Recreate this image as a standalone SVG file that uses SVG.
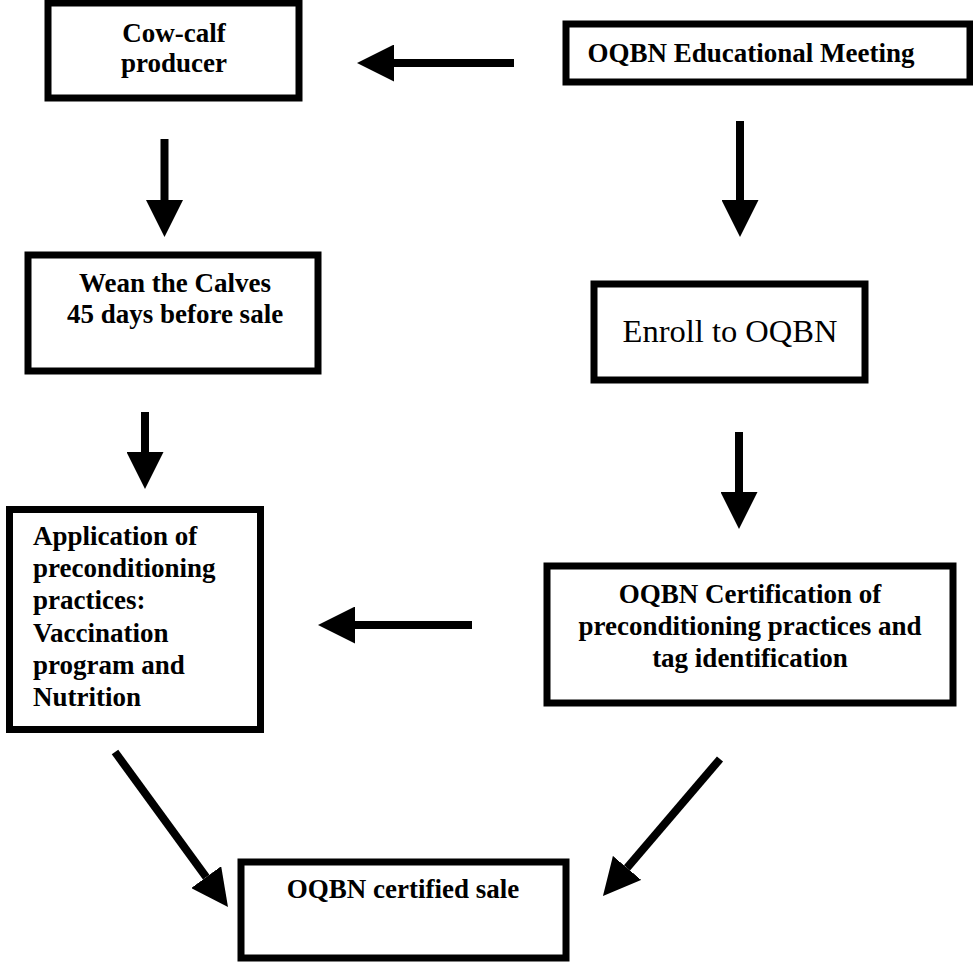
<svg xmlns="http://www.w3.org/2000/svg" width="973" height="962" viewBox="0 0 973 962">
<style>
.box{fill:#fff;stroke:#000;stroke-width:7}
.t{font-family:"Liberation Serif","Times New Roman",serif;font-weight:bold;font-size:27px;fill:#000}
.c{text-anchor:middle}
.r{font-weight:normal;font-size:32.5px}
.arr{stroke:#000;stroke-width:8;fill:none;marker-end:url(#ah)}
</style>
<defs>
<marker id="ah" markerUnits="userSpaceOnUse" markerWidth="37" markerHeight="37" viewBox="0 0 37 37" refX="0" refY="18.5" orient="auto">
<path d="M0,0 L37,18.5 L0,37 z" fill="#000"/>
</marker>
</defs>
<rect width="973" height="962" fill="#fff"/>
<g id="connectors">
<line class="arr" x1="514" y1="63" x2="394" y2="63"/>
<line class="arr" x1="164.5" y1="139" x2="164.5" y2="200"/>
<line class="arr" x1="740" y1="121" x2="740" y2="200"/>
<line class="arr" x1="145" y1="412" x2="145" y2="452"/>
<line class="arr" x1="739" y1="432" x2="739" y2="492"/>
<line class="arr" x1="472" y1="625" x2="355" y2="625"/>
<line class="arr" x1="115" y1="752" x2="206.2" y2="877.1"/>
<line class="arr" x1="720" y1="759" x2="627" y2="867.9"/>
</g>
<g id="cowcalf">
<rect class="box" x="48" y="3" width="251" height="95"/>
<text class="t c" x="174" y="42">Cow-calf</text>
<text class="t c" x="174" y="72">producer</text>
</g>
<g id="meeting">
<rect class="box" x="566" y="24" width="404" height="58"/>
<text class="t c" x="751" y="62">OQBN Educational Meeting</text>
</g>
<g id="wean">
<rect class="box" x="28" y="255" width="290" height="116"/>
<text class="t c" x="175" y="292">Wean the Calves</text>
<text class="t c" x="175" y="323">45 days before sale</text>
</g>
<g id="enroll">
<rect class="box" x="594" y="284" width="271" height="96"/>
<text class="t c r" x="730" y="342">Enroll to OQBN</text>
</g>
<g id="application">
<rect class="box" x="9.5" y="509.5" width="251" height="220"/>
<text class="t" x="33" y="545">Application of</text>
<text class="t" x="33" y="577">preconditioning</text>
<text class="t" x="33" y="609">practices:</text>
<text class="t" x="33" y="642">Vaccination</text>
<text class="t" x="33" y="674">program and</text>
<text class="t" x="33" y="706">Nutrition</text>
</g>
<g id="certification">
<rect class="box" x="547" y="566" width="406" height="137"/>
<text class="t c" x="750" y="603">OQBN Certification of</text>
<text class="t c" x="750" y="635">preconditioning practices and</text>
<text class="t c" x="750" y="667">tag identification</text>
</g>
<g id="sale">
<rect class="box" x="241" y="862" width="325" height="96"/>
<text class="t c" x="403" y="898">OQBN certified sale</text>
</g>
</svg>
